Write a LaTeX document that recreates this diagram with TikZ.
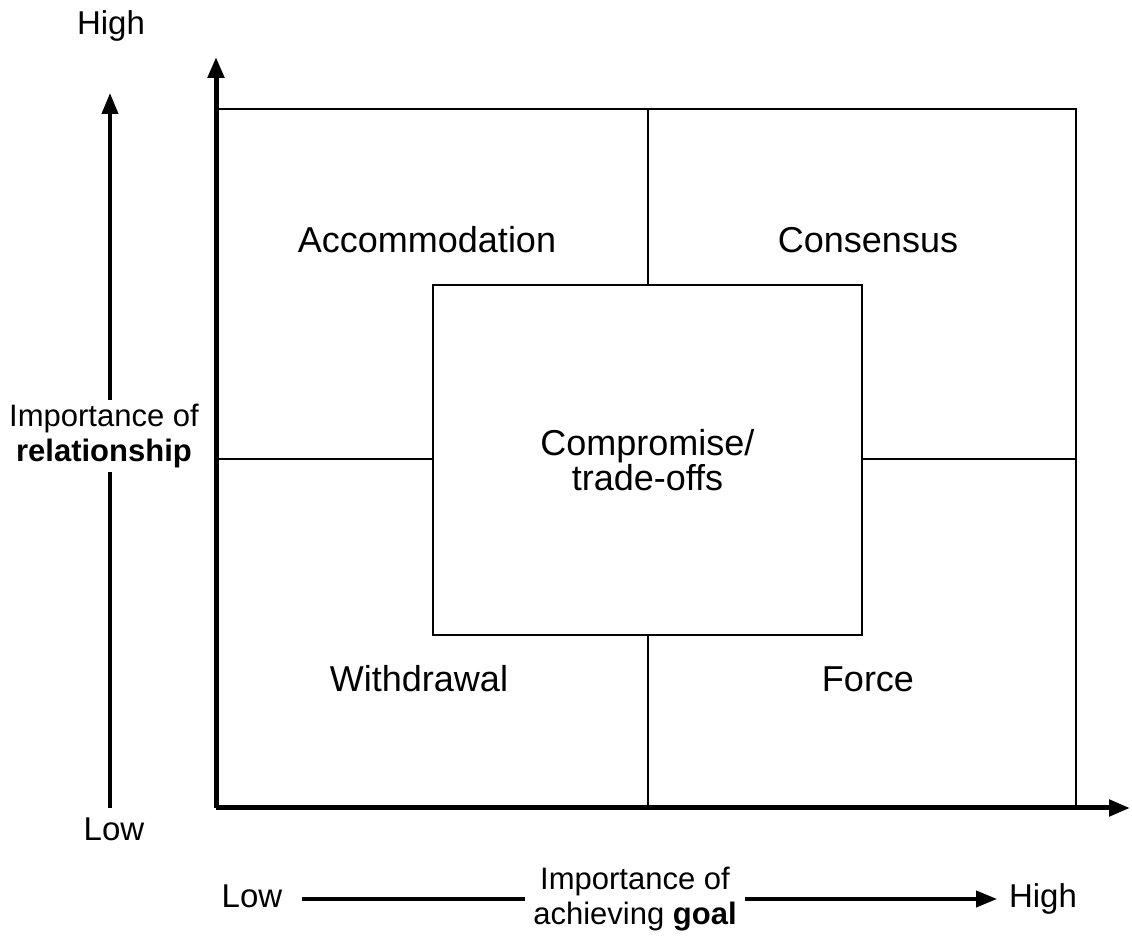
\documentclass[tikz,border=0pt]{standalone}
\usepackage{fontspec}
\setmainfont{Liberation Sans}
\usetikzlibrary{arrows.meta,positioning}

\begin{document}
\begin{tikzpicture}[x=0.5pt,y=-0.5pt,>={Triangle[length=10.5pt,width=8pt]},
	axis/.style={line width=2.5pt},
	grid/.style={line width=1pt},
	scalearrow/.style={line width=2pt},
	quad/.style={font=\fontsize{18}{17.5}\selectfont,anchor=base},
	axislabel/.style={font=\fontsize{15.5}{17.5}\selectfont,align=center,inner sep=0pt,outer sep=2pt},
	level/.style={font=\fontsize{16.5}{19}\selectfont,inner sep=0pt,text height=12pt,text depth=3.5pt}]
	\useasboundingbox (0,0) rectangle (1132,936);
	% corners of the grid
	\coordinate (o) at (216,808);
	\coordinate (ytip) at (216,57);
	\coordinate (xtip) at (1130,808);
	\coordinate (tl) at (216,109);
	\coordinate (tr) at (1076,109);
	\coordinate (br) at (1076,808);
	\coordinate (ml) at (216,459);
	\coordinate (mr) at (1076,459);
	% middle box
	\node[draw,line width=1pt,minimum width=214.5pt,minimum height=175pt,align=center,
		font=\fontsize{18}{17.5}\selectfont] (mid) at (647.5,460) {Compromise/\\trade-offs};
	\draw[grid] (tl) -- (tr) -- (br);
	\draw[grid] (mid.north) -- (mid.north |- tl);
	\draw[grid] (mid.south) -- (mid.south |- o);
	\draw[grid] (ml) -- (mid.west |- ml);
	\draw[grid] (mid.east |- mr) -- (mr);
	\draw[axis,->] (o) -- (ytip);
	\draw[axis,->] (o) -- (xtip);
	% quadrants
	\node[quad] (acc) at (427,253) {Accommodation};
	\node[quad] (cons) at (868,253) {Consensus};
	\node[quad] (withd) at (419,692) {Withdrawal};
	\node[quad] (force) at (868,692) {Force};
	% left scale
	\node[level] (high1) at (111,26.5) {High};
	\node[level] (low1) at (114,832.5) {Low};
	\node[axislabel] (rel) at (104,436) {Importance of\\\textbf{relationship}};
	\coordinate (rlow) at (110,808);
	\coordinate (rhigh) at (110,93);
	\draw[scalearrow] (rlow) -- (rlow |- rel.south);
	\draw[scalearrow,->] (rhigh |- rel.north) -- (rhigh);
	% bottom scale
	\node[level,outer sep=10pt] (low2) at (252,899) {Low};
	\node[axislabel,outer sep=4pt] (goal) at (635,899) {Importance of\\achieving \textbf{goal}};
	\node[level,outer sep=6pt] (high2) at (1043,899) {High};
	\draw[scalearrow] (low2.east) -- (goal.west |- low2.east);
	\draw[scalearrow,->] (goal.east |- high2.west) -- (high2.west);
\end{tikzpicture}
\end{document}
